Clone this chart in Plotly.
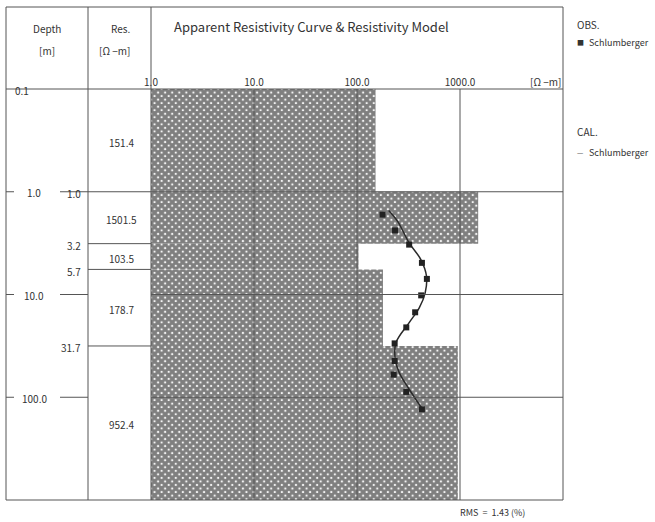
import math
import plotly.graph_objects as go

# ---------------- data ----------------
layer_top = [0.1, 1.0, 3.2, 5.7, 31.7]
layer_bottom = [1.0, 3.2, 5.7, 31.7, 1000.0]
layer_res = [151.4, 1501.5, 103.5, 178.7, 952.4]
boundary_labels = ["1.0", "3.2", "5.7", "31.7"]
res_labels = ["151.4", "1501.5", "103.5", "178.7", "952.4"]

depth_ticks = [0.1, 1.0, 10.0, 100.0]
depth_tick_labels = ["0.1", "1.0", "10.0", "100.0"]

res_ticks = [1, 10, 100, 1000]
res_tick_labels = ["1.0", "10.0", "100.0", "1000.0"]

obs_ab2 = [1.67, 2.38, 3.27, 4.92, 7.05, 10.2, 14.9, 20.9, 29.9, 44.4, 60.2, 88.7, 131]
obs_rho = [177, 234, 321, 427, 477, 420, 367, 301, 232, 232, 227, 301, 427]

cal_ab2 = [1.52, 1.94, 3.15, 4.57, 6.64, 9.64, 13.5, 18.8, 29.4, 42.7, 57.6, 83.6, 131]
cal_rho = [203, 248, 321, 417, 473, 459, 402, 321, 239, 235, 257, 321, 433]

rms_text = "RMS  =  1.43 (%)"

# ---------------- layout helpers ----------------
W, H = 655, 522
L, R, T, B = 151, 563, 89, 500
FONT = "Noto Sans CJK JP"
TXT = "#333333"
LINE = "#555555"


def px(x):
    return (x - L) / (R - L)


def py(y):
    return (B - y) / (B - T)


fig = go.Figure()

# resistivity model bars (hatched)
for top, bot, r in zip(layer_top, layer_bottom, layer_res):
    fig.add_trace(go.Scatter(
        x=[1, r, r, 1, 1], y=[top, top, bot, bot, top],
        mode="lines", fill="toself", line=dict(width=0, color="black"),
        fillcolor="white",
        fillpattern=dict(shape="x", fgcolor="#000000", bgcolor="white",
                         size=5, solidity=0.85),
        hoverinfo="skip", showlegend=False))

# calculated curve
fig.add_trace(go.Scatter(x=cal_rho, y=cal_ab2, mode="lines",
                         line=dict(color="#2a2a2a", width=1.5, shape="spline"),
                         showlegend=False))
# observed points
fig.add_trace(go.Scatter(x=obs_rho, y=obs_ab2, mode="markers",
                         marker=dict(symbol="square", size=6, color="#222222"),
                         showlegend=False))

shapes = []


def seg(x0, y0, x1, y1, xref="paper", yref="paper", color=LINE, w=1):
    shapes.append(dict(type="line", x0=x0, y0=y0, x1=x1, y1=y1, xref=xref,
                       yref=yref, line=dict(color=color, width=w), layer="above"))


xl, xd, xr = px(6), px(88), 0.0
ytop = py(7)
# frame
seg(xl, ytop, 1, ytop)
seg(xl, 1, 1, 1)
seg(xl, 0, 1, 0)
for xx in (xl, xd, xr, 1):
    seg(xx, 0, xx, ytop)
# depth ticks in Depth column
for d in depth_ticks[1:]:
    seg(xl, d, px(14), d, yref="y")
    seg(px(60), d, xd, d, yref="y")
# layer boundaries in Res column
for d in layer_top[1:]:
    seg(xd, d, xr, d, yref="y")
# grid inside plot
for v in res_ticks[1:]:
    seg(v, 0, v, 1, xref="x", yref="paper")
for d in depth_ticks[1:]:
    seg(0, d, 1, d, xref="paper", yref="y")

ann = []


def text(x, y, s, xanchor="center", yref="paper", size=10, yshift=0):
    yy = math.log10(y) if yref == "y" else y
    ann.append(dict(x=x, y=yy, xref="paper", yref=yref, text=s, showarrow=False,
                    xanchor=xanchor, yanchor="middle", yshift=yshift,
                    font=dict(family=FONT, size=size, color=TXT)))


text(px(47), py(28), "Depth")
text(px(47), py(51), "[m]")
text(px(120), py(28), "Res.")
text(px(114), py(51), "[Ω −m]")
text(px(172), py(26), "Apparent Resistivity Curve &amp; Resistivity Model",
     xanchor="left", size=13)
text(px(563), py(81), "[Ω −m]", xanchor="right")

for i, (d, s) in enumerate(zip(depth_ticks, depth_tick_labels)):
    text(px(22 if i == 0 else 34), d, s, yref="y", yshift=-1)
for d, s in zip(layer_top[1:], boundary_labels):
    text(px(83), d, s, xanchor="right", yref="y", yshift=-2)
for top, bot, s in zip(layer_top, layer_bottom, res_labels):
    mid = (top * bot) ** 0.5
    text(px(121), mid, s, yref="y", yshift=-2)

text(px(492), py(512), rms_text, size=9)

# legend-like labels
text(px(575), py(25), "OBS.", xanchor="left")
text(px(575), py(42), "■", xanchor="left", size=7)
text(px(587), py(42), "Schlumberger", xanchor="left", size=9)
text(px(575), py(131), "CAL.", xanchor="left")
text(px(575), py(152), "—", xanchor="left", size=7)
text(px(587), py(152), "Schlumberger", xanchor="left", size=9)

fig.update_layout(
    width=W, height=H,
    margin=dict(l=L, r=W - R, t=T, b=H - B, pad=0),
    paper_bgcolor="white", plot_bgcolor="white",
    showlegend=False,
    shapes=shapes, annotations=ann,
    font=dict(family=FONT, size=10, color=TXT),
    xaxis=dict(type="log", range=[0, 4], side="top", tickvals=res_ticks,
               ticktext=res_tick_labels, ticks="", showgrid=False,
               zeroline=False, showline=False,
               tickfont=dict(family=FONT, size=10, color=TXT)),
    yaxis=dict(type="log", range=[3, -1], showticklabels=False, ticks="",
               showgrid=False, zeroline=False, showline=False),
)

fig.write_html("out.html", config={"displayModeBar": False},
               post_script="document.body.style.margin='0';")
